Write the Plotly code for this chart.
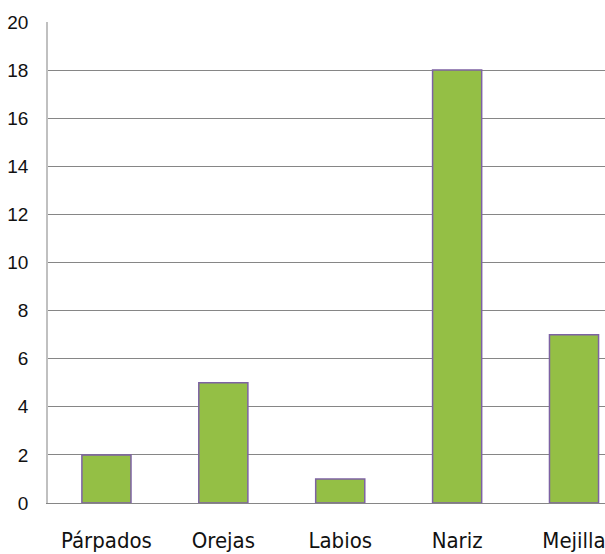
import plotly.graph_objects as go

categories = ["Párpados", "Orejas", "Labios", "Nariz", "Mejilla"]
values = [2, 5, 1, 18, 7]
y_ticks = [0, 2, 4, 6, 8, 10, 12, 14, 16, 18, 20]

fig = go.Figure(go.Bar(
    x=categories, y=values, width=0.42,
    marker=dict(color="#94bf45", line=dict(color="#7d62a3", width=1.5)),
))

fig.update_layout(
    width=605, height=554,
    margin=dict(l=48, r=0, t=22, b=51),
    plot_bgcolor="white", paper_bgcolor="white",
    showlegend=False,
    xaxis=dict(range=[-0.5, 4.265], showgrid=False, showline=True, linecolor="#868686",
               tickfont=dict(family="DejaVu Sans Condensed, DejaVu Sans", size=22, color="#111"),
               ticks="", ticklabelstandoff=18),
    yaxis=dict(range=[0, 20], tickvals=y_ticks, showgrid=True, gridcolor="#868686", gridwidth=1,
               showline=True, linecolor="#c0c0c0", linewidth=1.5, zeroline=False,
               tickfont=dict(family="Liberation Sans, Arial", size=19, color="#111"),
               ticks="", ticklabelstandoff=14),
)

fig.write_html("out.html")
